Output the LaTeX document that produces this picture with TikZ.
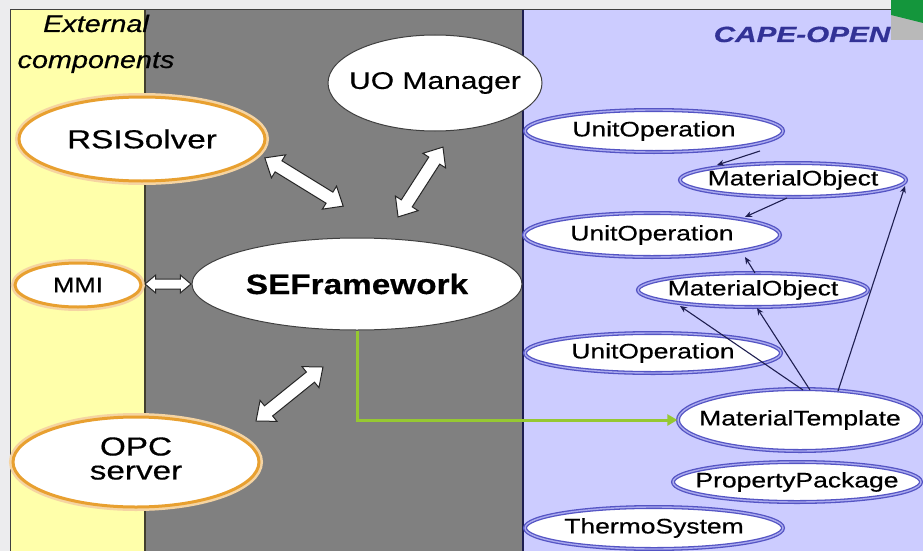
\documentclass[tikz,border=0pt]{standalone}
\usepackage{fontspec}
\setmainfont{Liberation Sans}[FakeBold=0.45]
\usetikzlibrary{shapes.geometric,shapes.arrows,arrows.meta,calc}
\definecolor{bgout}{RGB}{236,236,238}
\definecolor{ylw}{RGB}{255,255,170}
\definecolor{gry}{RGB}{128,128,128}
\definecolor{lav}{RGB}{204,204,255}
\definecolor{blu}{RGB}{84,84,196}
\definecolor{blulight}{RGB}{170,170,238}
\definecolor{org}{RGB}{232,160,48}
\definecolor{capeblue}{RGB}{50,50,150}
\definecolor{grn}{RGB}{150,200,50}
\definecolor{navy}{RGB}{30,30,80}
\definecolor{logogrn}{RGB}{20,150,60}
\definecolor{logogry}{RGB}{185,185,185}
\newcommand{\xs}[2]{\makebox[0pt]{\scalebox{#1}[1]{#2}}}
\begin{document}
\begin{tikzpicture}[x=1pt,y=-1pt,
  ext/.style={ellipse, inner sep=0pt, fill=white, draw=org, line width=3pt,
    preaction={draw=org!45, line width=8pt}},
  core/.style={ellipse, inner sep=0pt, fill=white, draw=black!75, line width=1pt},
  cape/.style={ellipse, inner sep=0pt, fill=white, draw=blu, line width=1.3pt,
    double=blulight, double distance=1.4pt, font=\fontsize{21}{24}\selectfont},
  blk/.style={double arrow, draw=black!85, fill=white, line width=1pt,
    inner xsep=0pt, inner ysep=6pt, minimum width=0pt,
    double arrow head extend=7pt, double arrow tip angle=80},
  blksmall/.style={blk, inner ysep=4.5pt, double arrow head extend=4pt},
  thin/.style={draw=navy, line width=1.1pt, -{Stealth[length=7pt,width=6pt]}},
  lbl/.style={inner sep=0pt, anchor=base}
]
\useasboundingbox (0,0) rectangle (923,551);
% panels
\fill[bgout] (0,0) rectangle (923,551);
\fill[ylw] (10,10) rectangle (145,551);
\fill[gry] (145,10) rectangle (523,551);
\fill[lav] (523,10) rectangle (923,551);
\draw[black!75, line width=1pt] (10,551) -- (10,10) -- (923,10);
\draw[black!70!olive, line width=1.2pt] (145,10) -- (145,551);
\draw[navy, line width=1.2pt] (523,10) -- (523,551);
% logo corner
\fill[logogry] (891,0) rectangle (923,40);
\fill[logogrn] (891,0) -- (923,0) -- (923,23) -- (891,15) -- cycle;
% titles
\node[lbl, font=\fontsize{24}{28}\selectfont\itshape] (t1) at (96,32) {\xs{1.2}{External}};
\node[lbl, font=\fontsize{24}{28}\selectfont\itshape] (t2) at (96,68) {\xs{1.2}{components}};
\node[lbl, font=\fontsize{22}{26}\selectfont\bfseries\itshape, text=capeblue] (t3) at (802,42) {\xs{1.35}{CAPE-OPEN}};
% main nodes
\node[core, minimum width=214pt, minimum height=96pt, font=\fontsize{24}{28}\selectfont] (uom) at (435,83) {\xs{1.25}{UO Manager}};
\node[ext, minimum width=246pt, minimum height=84pt, font=\fontsize{26}{30}\selectfont] (rsi) at (142,139) {\xs{1.28}{RSISolver}};
\node[ext, minimum width=126pt, minimum height=44pt, font=\fontsize{21}{24}\selectfont] (mmi) at (78,285) {\xs{1.22}{MMI}};
\node[core, minimum width=330pt, minimum height=92pt, font=\fontsize{28}{32}\selectfont\bfseries] (sef) at (357,284) {\xs{1.19}{SEFramework}};
\node[ext, minimum width=246pt, minimum height=90pt, font=\fontsize{26}{24}\selectfont] (opc) at (136,462)
  {\xs{1.28}{\begin{tabular}{@{}c@{}}OPC\\server\end{tabular}}};
% CAPE-OPEN nodes
\node[cape, minimum width=258pt, minimum height=42pt] (uo1) at (654,131) {\xs{1.26}{UnitOperation}};
\node[cape, minimum width=226pt, minimum height=34pt] (mo1) at (793,180) {\xs{1.26}{MaterialObject}};
\node[cape, minimum width=256pt, minimum height=44pt] (uo2) at (652,235) {\xs{1.26}{UnitOperation}};
\node[cape, minimum width=230pt, minimum height=34pt] (mo2) at (753,290) {\xs{1.26}{MaterialObject}};
\node[cape, minimum width=256pt, minimum height=40pt] (uo3) at (653,353) {\xs{1.26}{UnitOperation}};
\node[cape, minimum width=244pt, minimum height=62pt] (mt) at (800,420) {\xs{1.26}{MaterialTemplate}};
\node[cape, minimum width=248pt, minimum height=40pt] (pp) at (797,482) {\xs{1.26}{PropertyPackage}};
\node[cape, minimum width=258pt, minimum height=42pt] (ts) at (654,528) {\xs{1.26}{ThermoSystem}};
% block double arrows
\coordinate (a1) at (265,158); \coordinate (a2) at (343,206);
\coordinate (b1) at (443,147); \coordinate (b2) at (398,217);
\coordinate (c1) at (145,284); \coordinate (c2) at (191,284);
\coordinate (d1) at (256,421); \coordinate (d2) at (323,367);
\path (a1) -- (a2) node[midway, sloped, blk, minimum height=92pt] (arA) {};
\path (b1) -- (b2) node[midway, sloped, blk, minimum height=83pt] (arB) {};
\path (c1) -- (c2) node[midway, sloped, blksmall, minimum height=46pt] (arC) {};
\path (d1) -- (d2) node[midway, sloped, blk, minimum height=86pt] (arD) {};
% thin arrows
\draw[thin] ($(uo1.center)+(106,20)$) -- ($(mo1.center)+(-76,-15)$);
\draw[thin] ($(mo1.center)+(-6,18)$) -- ($(uo2.center)+(93,-18)$);
\draw[thin] ($(mo2.center)+(2,-17)$) -- ($(uo2.center)+(93,22)$);
\draw[thin] ($(mt.center)+(3,-30)$) -- ($(mo2.center)+(-73,16)$);
\draw[thin] ($(mt.center)+(10,-30)$) -- ($(mo2.center)+(4,18)$);
\draw[thin] ($(mt.center)+(38,-29)$) -- ($(mo1.center)+(112,6)$);
% green link
\draw[grn, line width=3pt, -{Triangle[length=10pt,width=11pt]}] (sef.south) |- (mt.west);
\end{tikzpicture}
\end{document}
